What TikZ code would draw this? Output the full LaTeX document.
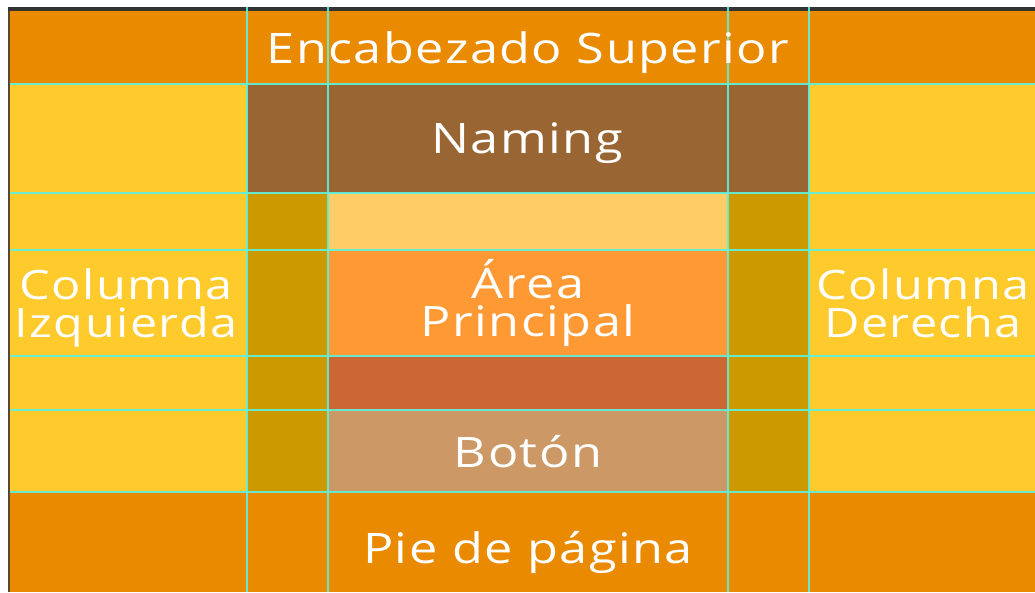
\documentclass[tikz,border=0pt]{standalone}
\usepackage{fontspec}
\newfontfamily\lab[FakeStretch=1.2, LetterSpace=3.5]{Open Sans}
\definecolor{hdr}{HTML}{E98A00}
\definecolor{yel}{HTML}{FFCA2C}
\definecolor{brn}{HTML}{996633}
\definecolor{gld}{HTML}{CC9900}
\definecolor{lor}{HTML}{FFCC66}
\definecolor{org}{HTML}{FF9933}
\definecolor{rst}{HTML}{CC6633}
\definecolor{tan}{HTML}{CC9966}
\definecolor{band}{HTML}{333333}
\definecolor{edge}{HTML}{5C4630}
\definecolor{gridc}{HTML}{5CF2E2}
\begin{document}
\begin{tikzpicture}[x=1pt,y=-1pt,
  cellbox/.style={inner sep=0pt, outer sep=0pt, draw=none},
  lbl/.style={text=white, font=\lab\fontsize{42}{38}\selectfont, inner sep=0pt, align=center},
  sidelbl/.style={lbl, font=\lab\fontsize{40.5}{38}\selectfont},
  gridline/.style={draw=gridc, line width=1.1pt, opacity=0.9}]
\newcommand\mkcell[6]{\node[cellbox, fill=#6, minimum width={#4-#2}, minimum height={#5-#3}] (#1) at ({(#2+#4)/2},{(#3+#5)/2}) {};}
\useasboundingbox (0,0) rectangle (1035,592);
\fill[white] (0,0) rectangle (1035,592);
\fill[band] (8,7) rectangle (1035,10.5);
\fill[edge] (8,10.5) rectangle (9.5,592);
\mkcell{header}{9.5}{10.5}{1035}{84}{hdr}
\mkcell{leftcol}{9.5}{84}{247}{492}{yel}
\mkcell{rightcol}{809}{84}{1035}{492}{yel}
\mkcell{naming}{247}{84}{809}{193}{brn}
\mkcell{gutl}{247}{193}{328}{492}{gld}
\mkcell{gutr}{728}{193}{809}{492}{gld}
\mkcell{band1}{328}{193}{728}{250}{lor}
\mkcell{main}{328}{250}{728}{356}{org}
\mkcell{band2}{328}{356}{728}{410}{rst}
\mkcell{boton}{328}{410}{728}{492}{tan}
\mkcell{footer}{9.5}{492}{1035}{592}{hdr}
\foreach \y in {84,193,250,356,410,492} \draw[gridline] (9.5,\y) -- (1035,\y);
\foreach \x in {247,328,728,809} \draw[gridline] (\x,7) -- (\x,592);
\node[lbl, anchor=base] (thdr) at (528,63) {Encabezado Superior};
\node[lbl, anchor=base] (tnam) at (527,153) {Naming};
\node[lbl, anchor=base] (tmain) at (528,336) {Área\\Principal};
\node[lbl, anchor=base] (tbot) at (528,467) {Botón};
\node[lbl, anchor=base] (tfoot) at (528,563) {Pie de página};
\node[sidelbl, anchor=base] (tleft) at (126,337) {Columna\\Izquierda};
\node[sidelbl, anchor=base] (tright) at (923,337) {Columna\\Derecha};
\end{tikzpicture}
\end{document}
